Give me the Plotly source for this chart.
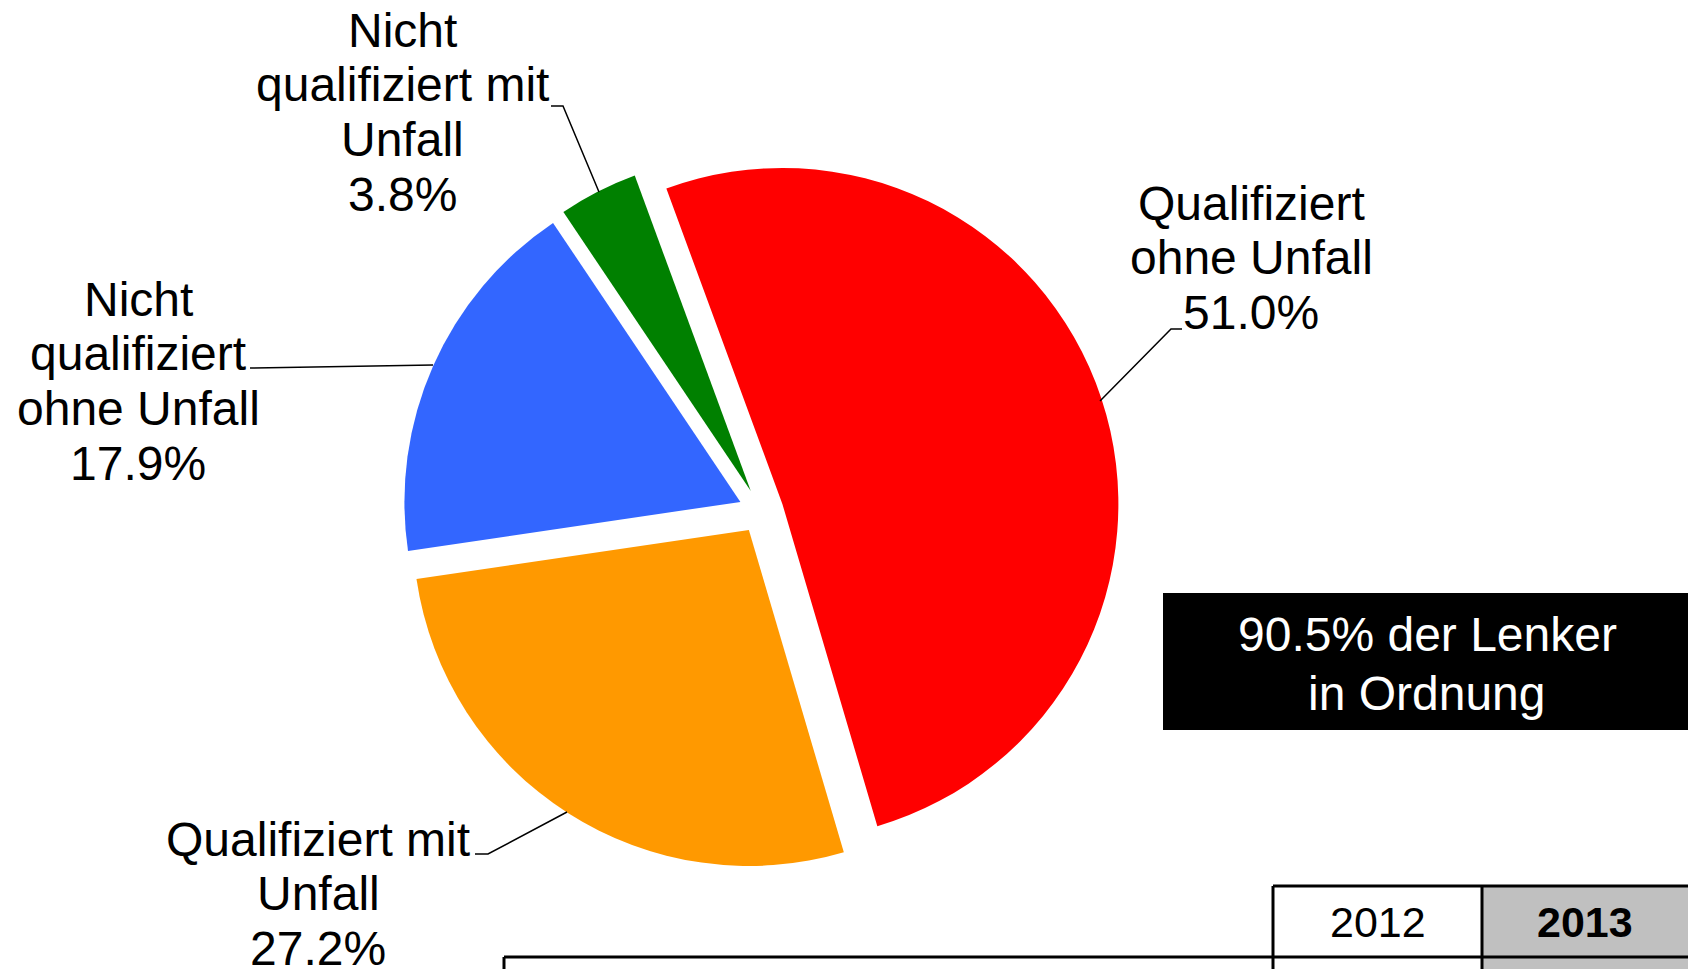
import plotly.graph_objects as go

W, H = 1688, 969

# ---- data ----
categories = ["Qualifiziert ohne Unfall", "Qualifiziert mit Unfall",
              "Nicht qualifiziert ohne Unfall", "Nicht qualifiziert mit Unfall"]
shares = [51.0, 27.2, 17.9, 3.8]
slice_colors = ["#FF0000", "#FF9900", "#3366FF", "#008000"]
label_lines = [["Qualifiziert", "ohne Unfall"],
               ["Qualifiziert mit", "Unfall"],
               ["Nicht", "qualifiziert", "ohne Unfall"],
               ["Nicht", "qualifiziert mit", "Unfall"]]
summary_text = ["90.5% der Lenker", "in Ordnung"]
years = ["2012", "2013"]

# ---- layout helpers (pixel -> paper) ----
def px(x):
    return x / W

def py(y):
    return 1 - y / H

FONT = "Liberation Sans, Arial, sans-serif"
LBL_SIZE = 48
LINE_GAP = 54.7

# label block positions: (center x, first line center y) in pixels
label_pos = [(1251, 203), (318, 839), (138, 299), (402, 30)]
# leader lines in pixels
leaders = [
    [(1182, 329), (1171, 329), (1100, 401)],
    [(475, 854), (488, 854), (567, 812)],
    [(250, 368), (433, 365)],
    [(551, 106), (563, 106), (599, 192)],
]

cx, cy, R, pull = 761, 511, 336, 0.067
half = R * (1 + pull)

fig = go.Figure()
fig.add_trace(go.Pie(
    labels=categories,
    values=shares,
    marker=dict(colors=slice_colors, line=dict(width=0)),
    sort=False,
    direction="clockwise",
    rotation=-20.2,
    pull=[pull] * len(shares),
    textinfo="none",
    domain=dict(x=[px(cx - half), px(cx + half)], y=[py(cy + half), py(cy - half)]),
))

annotations = []
for lines, v, (lx, ly) in zip(label_lines, shares, label_pos):
    all_lines = lines + [f"{v:.1f}%"]
    for i, t in enumerate(all_lines):
        annotations.append(dict(
            x=px(lx), y=py(ly + i * LINE_GAP), xref="paper", yref="paper",
            text=t, showarrow=False, xanchor="center", yanchor="middle",
            font=dict(family=FONT, size=LBL_SIZE, color="black")))

# summary box text
for i, t in enumerate(summary_text):
    annotations.append(dict(
        x=px(1427), y=py(634 + i * 59), xref="paper", yref="paper",
        text=t, showarrow=False, xanchor="center", yanchor="middle",
        font=dict(family=FONT, size=48, color="white")))

# table header text
annotations.append(dict(x=px(1378), y=py(922), xref="paper", yref="paper",
                        text=years[0], showarrow=False, xanchor="center", yanchor="middle",
                        font=dict(family=FONT, size=43, color="black")))
annotations.append(dict(x=px(1585), y=py(922), xref="paper", yref="paper",
                        text="<b>" + years[1] + "</b>", showarrow=False, xanchor="center",
                        yanchor="middle", font=dict(family=FONT, size=43, color="black")))

shapes = []
for pts in leaders:
    path = "M " + " L ".join(f"{px(x)},{py(y)}" for x, y in pts)
    shapes.append(dict(type="path", path=path, xref="paper", yref="paper",
                       line=dict(color="black", width=1.5)))

# black summary box
shapes.append(dict(type="rect", xref="paper", yref="paper",
                   x0=px(1163), x1=px(1700), y0=py(730), y1=py(593),
                   fillcolor="black", line=dict(width=0), layer="below"))
# table
shapes.append(dict(type="rect", xref="paper", yref="paper",
                   x0=px(1482), x1=px(1700), y0=py(1000), y1=py(886),
                   fillcolor="#C0C0C0", line=dict(width=0), layer="below"))
tl = dict(color="black", width=3)
shapes += [
    dict(type="line", xref="paper", yref="paper", x0=px(1273), x1=px(1700), y0=py(886), y1=py(886), line=tl),
    dict(type="line", xref="paper", yref="paper", x0=px(504), x1=px(1700), y0=py(957), y1=py(957), line=tl),
    dict(type="line", xref="paper", yref="paper", x0=px(504), x1=px(504), y0=py(957), y1=py(1000), line=tl),
    dict(type="line", xref="paper", yref="paper", x0=px(1273), x1=px(1273), y0=py(886), y1=py(1000), line=tl),
    dict(type="line", xref="paper", yref="paper", x0=px(1482), x1=px(1482), y0=py(886), y1=py(1000), line=tl),
]

fig.update_layout(
    width=W, height=H,
    margin=dict(l=0, r=0, t=0, b=0),
    showlegend=False,
    paper_bgcolor="white",
    plot_bgcolor="white",
    annotations=annotations,
    shapes=shapes,
)

fig.write_html("out.html", config={"displayModeBar": False},
               post_script="document.body.style.margin='0';document.body.style.overflow='hidden';")
